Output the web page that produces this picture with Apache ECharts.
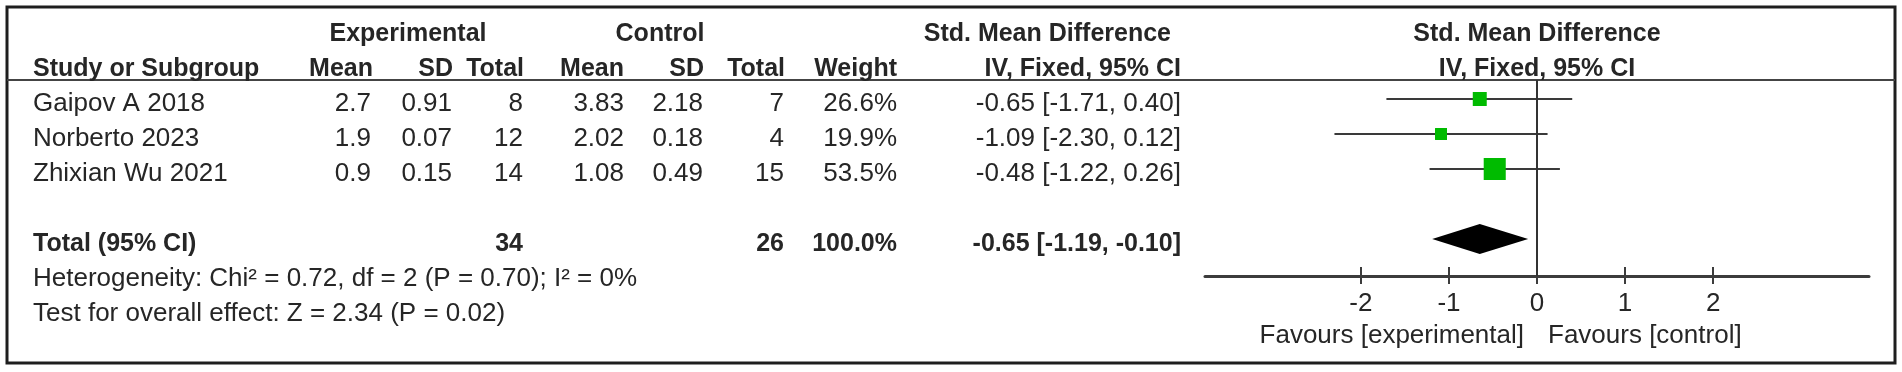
<!DOCTYPE html>
<html>
<head>
<meta charset="utf-8">
<script src="https://cdn.jsdelivr.net/npm/echarts@6/dist/echarts.min.js"></script>
<style>
html, body { margin: 0; padding: 0; background: #fff; }
#forestPlot { width: 1902px; height: 372px; }
</style>
</head>
<body>
<div id="forestPlot"></div>
<script>
// study level data
var studyNames = ['Gaipov A 2018', 'Norberto 2023', 'Zhixian Wu 2021'];
var expMean = [2.7, 1.9, 0.9];
var expSD = [0.91, 0.07, 0.15];
var expTotal = [8, 12, 14];
var ctrlMean = [3.83, 2.02, 1.08];
var ctrlSD = [2.18, 0.18, 0.49];
var ctrlTotal = [7, 4, 15];
var studyWeight = [26.6, 19.9, 53.5];
var studySMD = [-0.65, -1.09, -0.48];
var studyLower = [-1.71, -2.30, -1.22];
var studyUpper = [0.40, 0.12, 0.26];

// pooled result: estimate, lower, upper
var pooledSMD = [-0.65, -1.19, -0.10];
var pooledTotals = [34, 26];
var pooledWeight = [100.0];

var axisTickValues = [-2, -1, 0, 1, 2];
var heterogeneityText = 'Heterogeneity: Chi\u00B2 = 0.72, df = 2 (P = 0.70); I\u00B2 = 0%';
var overallEffectText = 'Test for overall effect: Z = 2.34 (P = 0.02)';
var favoursLabels = ['Favours [experimental]', 'Favours [control]'];

var FONT = '"Liberation Sans", Arial, sans-serif';
var TEXT_COLOR = '#262626';
var FONT_SIZE = 26;
var BOLD_SIZE = 25;

var forestChart = echarts.init(document.getElementById('forestPlot'));

var studyRows = studyNames.map(function (name, i) {
	return [studyLower[i], studyUpper[i], studySMD[i], i, studyWeight[i]];
});
// pooled diamond sits two rows below last study
var pooledRow = [[pooledSMD[0], pooledSMD[1], pooledSMD[2], studyNames.length + 1]];

function renderStudy(params, api) {
	var y = api.value(3);
	var left = api.coord([api.value(0), y]);
	var right = api.coord([api.value(1), y]);
	var mid = api.coord([api.value(2), y]);
	var size = 6 + 0.3 * api.value(4);
	return {
		type: 'group',
		children: [
			{ type: 'line', shape: { x1: left[0], y1: left[1], x2: right[0], y2: right[1] }, style: { stroke: '#3a3a3a', lineWidth: 2 } },
			{ type: 'rect', shape: { x: mid[0] - size / 2, y: mid[1] - size / 2, width: size, height: size }, style: { fill: '#00bb00' } }
		]
	};
}

function renderDiamond(params, api) {
	var y = api.value(3);
	var est = api.coord([api.value(0), y]);
	var lo = api.coord([api.value(1), y]);
	var hi = api.coord([api.value(2), y]);
	return {
		type: 'polygon',
		shape: { points: [[lo[0], lo[1]], [est[0], est[1] - 15], [hi[0], hi[1]], [est[0], est[1] + 15]] },
		style: { fill: '#000' }
	};
}

var forestOptions = {
	animation: false,
	grid: { left: 1205, width: 664, top: 80, height: 196 },
	xAxis: [
		{
			type: 'value', min: -3.77, max: 3.77, position: 'bottom',
			axisLine: { show: true, onZero: false, lineStyle: { color: '#3c3c3c', width: 3 } },
			axisTick: { show: true, inside: true, length: 9, customValues: axisTickValues, lineStyle: { color: '#3c3c3c', width: 2 } },
			axisLabel: { show: true, customValues: axisTickValues, margin: 15, fontSize: FONT_SIZE, color: TEXT_COLOR, fontFamily: FONT },
			splitLine: { show: false }
		},
		{
			type: 'value', min: -3.77, max: 3.77, position: 'bottom',
			axisLine: { show: false, onZero: false },
			axisTick: { show: true, length: 8, customValues: axisTickValues, lineStyle: { color: '#3c3c3c', width: 2 } },
			axisLabel: { show: false },
			splitLine: { show: false }
		}
	],
	yAxis: { type: 'value', inverse: true, min: -0.543, max: 5.057, show: false },
	series: [
		{
			name: 'studies',
			type: 'custom',
			renderItem: renderStudy,
			encode: { x: [0, 1, 2], y: 3 },
			data: studyRows,
			silent: true,
			markLine: {
				silent: true,
				symbol: 'none',
				label: { show: false },
				lineStyle: { color: '#333', width: 2, type: 'solid' },
				data: [{ xAxis: 0 }]
			}
		},
		{
			name: 'pooled',
			type: 'custom',
			renderItem: renderDiamond,
			encode: { x: [0, 1, 2], y: 3 },
			data: pooledRow,
			silent: true
		}
	]
};

forestChart.setOption(forestOptions);

// table text
function textEl(str, x, y, align, bold) {
	return {
		type: 'text', x: x, y: y, silent: true,
		style: {
			text: str, align: align, verticalAlign: 'middle',
			fontSize: bold ? BOLD_SIZE : FONT_SIZE, fontWeight: bold ? 'bold' : 'normal', fontFamily: FONT, fill: TEXT_COLOR
		}
	};
}

var colRight = { expMean: 371, expSD: 452, expTotal: 523, ctrlMean: 624, ctrlSD: 703, ctrlTotal: 784, weight: 897, ci: 1181 };
var studyX = 33;
var headerY = [34, 69];
var firstRowY = 104;
var rowStep = 35;

function fmtCI(e, l, u) {
	return e.toFixed(2) + ' [' + l.toFixed(2) + ', ' + u.toFixed(2) + ']';
}

var graphics = [];

// border + header rule
graphics.push({ type: 'rect', silent: true, shape: { x: 7, y: 7, width: 1888, height: 356 }, style: { fill: 'none', stroke: '#1e1e1e', lineWidth: 3 } });
graphics.push({ type: 'line', silent: true, shape: { x1: 7, y1: 80, x2: 1895, y2: 80 }, style: { stroke: '#444', lineWidth: 2 } });

var zeroX = forestChart.convertToPixel({ xAxisIndex: 0 }, 0);

// headers
graphics.push(textEl('Experimental', 408, headerY[0], 'center', true));
graphics.push(textEl('Control', 660, headerY[0], 'center', true));
graphics.push(textEl('Std. Mean Difference', 1171, headerY[0], 'right', true));
graphics.push(textEl('Std. Mean Difference', zeroX, headerY[0], 'center', true));
graphics.push(textEl('Study or Subgroup', studyX, headerY[1], 'left', true));
graphics.push(textEl('Mean', colRight.expMean + 2, headerY[1], 'right', true));
graphics.push(textEl('SD', colRight.expSD + 1, headerY[1], 'right', true));
graphics.push(textEl('Total', colRight.expTotal + 1, headerY[1], 'right', true));
graphics.push(textEl('Mean', colRight.ctrlMean, headerY[1], 'right', true));
graphics.push(textEl('SD', colRight.ctrlSD + 1, headerY[1], 'right', true));
graphics.push(textEl('Total', colRight.ctrlTotal + 1, headerY[1], 'right', true));
graphics.push(textEl('Weight', colRight.weight, headerY[1], 'right', true));
graphics.push(textEl('IV, Fixed, 95% CI', colRight.ci, headerY[1], 'right', true));
graphics.push(textEl('IV, Fixed, 95% CI', zeroX, headerY[1], 'center', true));

// study rows
studyNames.forEach(function (name, i) {
	var y = firstRowY + rowStep * i;
	graphics.push(textEl(name, studyX, y, 'left', false));
	graphics.push(textEl(expMean[i].toFixed(1), colRight.expMean, y, 'right', false));
	graphics.push(textEl(expSD[i].toFixed(2), colRight.expSD, y, 'right', false));
	graphics.push(textEl(String(expTotal[i]), colRight.expTotal, y, 'right', false));
	graphics.push(textEl(ctrlMean[i].toFixed(2), colRight.ctrlMean, y, 'right', false));
	graphics.push(textEl(ctrlSD[i].toFixed(2), colRight.ctrlSD, y, 'right', false));
	graphics.push(textEl(String(ctrlTotal[i]), colRight.ctrlTotal, y, 'right', false));
	graphics.push(textEl(studyWeight[i].toFixed(1) + '%', colRight.weight, y, 'right', false));
	graphics.push(textEl(fmtCI(studySMD[i], studyLower[i], studyUpper[i]), colRight.ci, y, 'right', false));
});

// total row
var totalY = firstRowY + rowStep * (studyNames.length + 1);
graphics.push(textEl('Total (95% CI)', studyX, totalY, 'left', true));
graphics.push(textEl(String(pooledTotals[0]), colRight.expTotal, totalY, 'right', true));
graphics.push(textEl(String(pooledTotals[1]), colRight.ctrlTotal, totalY, 'right', true));
graphics.push(textEl(pooledWeight[0].toFixed(1) + '%', colRight.weight, totalY, 'right', true));
graphics.push(textEl(fmtCI(pooledSMD[0], pooledSMD[1], pooledSMD[2]), colRight.ci, totalY, 'right', true));
graphics.push(textEl(heterogeneityText, studyX, totalY + rowStep, 'left', false));
graphics.push(textEl(overallEffectText, studyX, totalY + rowStep * 2, 'left', false));

// favours labels either side of the no-effect line
graphics.push(textEl(favoursLabels[0], zeroX - 13, 336, 'right', false));
graphics.push(textEl(favoursLabels[1], zeroX + 11, 336, 'left', false));

forestChart.setOption({ graphic: graphics });
</script>
</body>
</html>
